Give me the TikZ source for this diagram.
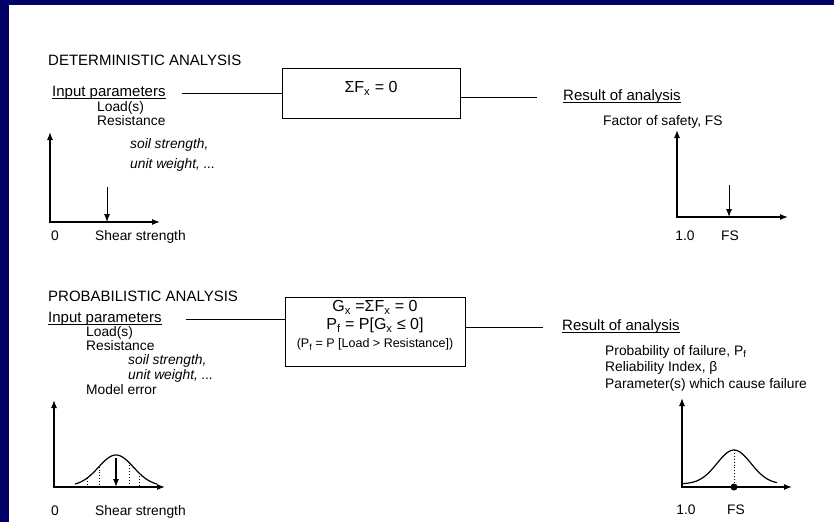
\documentclass[tikz,border=0pt]{standalone}
\usepackage{fontspec}
\setmainfont{Liberation Sans}
\usetikzlibrary{arrows.meta,positioning,calc}
\definecolor{slidenavy}{RGB}{0,0,102}

\begin{document}
\begin{tikzpicture}[
  x=1pt, y=-1pt,
  font=\fontsize{13.8}{15}\selectfont,
  >={Latex[width=6pt,length=8pt]},
  txt/.style={anchor=base west, inner sep=0pt},
  head/.style={txt, font=\fontsize{15}{17}\selectfont},
  slant/.style={txt, font=\fontsize{13.8}{15}\selectfont\itshape},
  ctr/.style={anchor=base, inner sep=0pt},
  eqbox/.style={draw, line width=1pt, inner sep=0pt},
  eqtxt/.style={align=center, inner sep=0pt, font=\fontsize{16}{18}\selectfont},
  link/.style={line width=1pt},
  uline/.style={line width=0.9pt},
  axisline/.style={<->, line width=1.2pt},
  pointer/.style={->, line width=1pt},
  dotline/.style={dotted, line width=0.9pt},
  bellcurve/.style={line width=1.2pt},
  node distance=2pt]
\useasboundingbox (0,0) rectangle (834,522);
\fill[slidenavy] (0,0) rectangle (834,522);
\fill[white] (9,5) rectangle (834,522);

% deterministic
\node[head] (det) at (48,65) {DETERMINISTIC ANALYSIS};
\node[head] (in1) at (52,96) {Input parameters};
\node[txt] (ld1) at (97,111) {Load(s)};
\node[txt] (rs1) at (97,125.5) {Resistance};
\node[slant] (ss1) at (130,148) {soil strength,};
\node[slant] (uw1) at (130,168) {unit weight, ...};
\node[eqbox, minimum width=178pt, minimum height=50pt] (eq1) at (371,93) {};
\node[eqtxt, below=14pt of eq1.north] (eqs1) {ΣF\textsubscript{x} = 0};
\node[head] (res1) at (563,100) {Result of analysis};
\node[txt] (fs1) at (603,125) {Factor of safety, FS};
\draw[uline] ([yshift=-2pt]in1.base west) -- ([yshift=-2pt]in1.base east);
\draw[uline] ([yshift=-2pt]res1.base west) -- ([yshift=-2pt]res1.base east);
\draw[link, shorten <=16pt] (in1.mid east) -- (in1.mid east -| eq1.west);
\draw[link, shorten >=26pt] (res1.mid west -| eq1.east) -- (res1.mid west);

\coordinate (o1) at (50,222);
\coordinate (y1) at (50,132);
\coordinate (x1) at (160,222);
\coordinate (p1) at (107,187);
\draw[axisline] (y1) |- (x1);
\draw[pointer] (p1) -- (p1 |- o1);
\node[ctr] (zr1) at (55,240) {0};
\node[txt] (sh1) at (95,240) {Shear strength};

\coordinate (o2) at (677,217);
\coordinate (y2) at (677,130);
\coordinate (x2) at (788,217);
\coordinate (p2) at (729,185);
\draw[axisline] (y2) |- (x2);
\draw[pointer] (p2) -- (p2 |- o2);
\node[ctr] (one2) at (685,240) {1.0};
\node[ctr] (fsl2) at (730,240) {FS};

% probabilistic
\node[head] (prob) at (48,301) {PROBABILISTIC ANALYSIS};
\node[head] (in2) at (48,322) {Input parameters};
\node[txt] (ld2) at (86,336) {Load(s)};
\node[txt] (rs2) at (86,350) {Resistance};
\node[slant] (ss2) at (128,364.5) {soil strength,};
\node[slant] (uw2) at (128,379.5) {unit weight, ...};
\node[txt] (me2) at (86,394.5) {Model error};
\node[eqbox, minimum width=180pt, minimum height=69pt] (eq2) at (375,331.5) {};
\node[eqtxt, below=4pt of eq2.north] (eqs2) {G\textsubscript{x} =ΣF\textsubscript{x} = 0\\
  P\textsubscript{f} = P[G\textsubscript{x} ≤ 0]\\
  {\fontsize{12.5}{14}\selectfont (P\textsubscript{f} = P [Load > Resistance])}};
\node[head] (res2) at (562,330) {Result of analysis};
\node[txt] (pf2) at (605,355) {Probability of failure, P\textsubscript{f}};
\node[txt] (ri2) at (605,371) {Reliability Index, β};
\node[txt] (pc2) at (605,388) {Parameter(s) which cause failure};
\draw[uline] ([yshift=-2pt]in2.base west) -- ([yshift=-2pt]in2.base east);
\draw[uline] ([yshift=-2pt]res2.base west) -- ([yshift=-2pt]res2.base east);
\draw[link, shorten <=24pt] (in2.mid east) -- (in2.mid east -| eq2.west);
\draw[link, shorten >=19pt] (res2.mid west -| eq2.east) -- (res2.mid west);

\coordinate (o3) at (54,487);
\coordinate (y3) at (54,400);
\coordinate (x3) at (165,487);
\coordinate (p3) at (116,458);
\draw[axisline] (y3) |- (x3);
\draw[bellcurve] plot[domain=75:157, samples=60] (\x,{486-31*exp(-((\x-116)^2)/612.5)});
\foreach \u in {87,99,129,139}
  \draw[dotline] (\u,{486-31*exp(-((\u-116)^2)/612.5)}) -- (\u,487);
\draw[pointer, line width=1.3pt] (p3) -- (p3 |- o3);
\node[ctr] (zr3) at (55,515) {0};
\node[txt] (sh3) at (95,515) {Shear strength};

\coordinate (o4) at (682,487);
\coordinate (y4) at (682,398);
\coordinate (x4) at (792,487);
\coordinate (pk4) at (734,450);
\draw[axisline] (y4) |- (x4);
\draw[bellcurve] plot[domain=682:777, samples=60] (\x,{484-34*exp(-((\x-734)^2)/578)});
\draw[dotline] (pk4) -- (pk4 |- o4);
\fill (pk4 |- o4) circle (3.5pt);
\node[ctr] (one4) at (686,514) {1.0};
\node[ctr] (fsl4) at (736,514) {FS};
\end{tikzpicture}
\end{document}
